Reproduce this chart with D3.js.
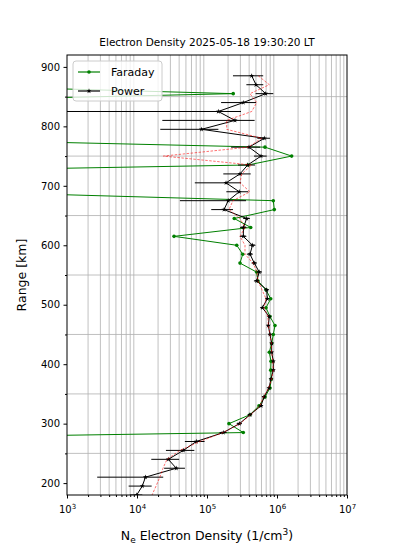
<!DOCTYPE html>
<html>
<head>
<meta charset="utf-8">
<script src="https://cdn.jsdelivr.net/npm/d3@7"></script>
<style>
  body { margin: 0; background: #fff; }
  svg text { font-family: "DejaVu Sans", sans-serif; fill: #000; }
</style>
</head>
<body>
<div id="chart"></div>
<script>
// altitudes of the samples (km)
var rangeKm = [885, 870, 855, 840, 825, 810, 795, 780, 765, 750, 735, 720, 705, 690, 675, 660,
  645, 630, 615, 600, 585, 570, 555, 540, 525, 510, 495, 480, 465, 450, 435, 420,
  405, 390, 375, 360, 345, 330, 315, 300, 285, 270, 255, 240, 225, 210, 195, 180];

// Faraday rotation estimate (1/cm^3)
var faraday = [0.5, 6, 2.37e5, 0.6, 0.5, 0.5, 0.5, 1.9, 6.74e5, 1.62e6, 3.85e5, 0.025, 0.02, 30, 8.85e5, 9.15e5,
  2.45e5, 4.21e5, 3.38e4, 2.66e5, 3.24e5, 2.96e5, 5.1e5, 5.35e5, 6.97e5, 8.13e5, 6.97e5, 7.94e5, 9.36e5, 8.85e5, 8.4e5, 7.76e5,
  8.21e5, 8.13e5, 8.3e5, 7.94e5, 6.74e5, 5.53e5, 4.11e5, 2.06e5, 3.3e5, 0.0013, 0.001, 0.001, 0.001, 0.001, 0.001, 0.001];

// power profile and its error
var power = [4.35e5, 5.01e5, 6.9e5, 3.3e5, 1.45e5, 2.51e5, 8.35e4, 6.59e5, 3.98e5, 5.91e5, 3.81e5, 2.96e5, 1.87e5, 2.89e5, 2.01e5, 1.75e5,
  3.69e5, 3.32e5, 3.3e5, 4.47e5, 4.11e5, 4.74e5, 5.58e5, 5.13e5, 7.13e5, 7.27e5, 6.17e5, 7.76e5, 7.51e5, 7.94e5, 8.4e5, 8.4e5,
  8.85e5, 8.85e5, 8.21e5, 7.69e5, 6.52e5, 5.91e5, 4.11e5, 2.91e5, 1.71e5, 7.03e4, 4.59e4, 2.8e4, 3.64e4, 1.32e4, 1.19e4, 9.9e3];
var powerErr = [2.0e5, 1.36e5, 1.95e5, 1.71e5, 1.61e5, 2.28e5, 6.2e4, 1.35e5, 1.77e5, 1.22e5, 1.04e5, 1.25e5, 1.2e5, 1.0e5, 1.6e5, 6e4,
  4e4, 3.5e4, 3.5e4, 4.5e4, 4e4, 4e4, 5e4, 4.5e4, 5e4, 4.5e4, 4e4, 4.5e4, 4e4, 4e4, 4e4, 4e4,
  4e4, 4e4, 4e4, 4e4, 4e4, 3.5e4, 3e4, 2.5e4, 2e4, 2.2e4, 2e4, 1.2e4, 1.2e4, 1.05e4, 4.3e3, 2e3];

// red dashed reference profile
var model = [5.41e5, 7.76e5, 4.11e5, 5.13e5, 4.35e5, 1.91e5, 1.91e5, 6.04e5, 3.89e5, 2.38e4, 4.35e5, 3.13e5, 2.96e5, 4.11e5, 2.35e5, 2.06e5,
  2.96e5, 3.49e5, 2.96e5, 3.49e5, 3.49e5, 4.54e5, 5.18e5, 5.35e5, 6.11e5, 6.97e5, 6.52e5, 7.43e5, 7.51e5, 7.94e5, 8.3e5, 8.4e5,
  8.7e5, 8.85e5, 8.4e5, 7.6e5, 6.4e5, 5.7e5, 4.2e5, 2.96e5, 1.69e5, 7.94e4, 4.1e4, 2.68e4, 2.35e4, 2.12e4, 1.87e4, 1.64e4];

var yTicks = [200, 300, 400, 500, 600, 700, 800, 900];
var yMinor = [250, 350, 450, 550, 650, 750, 850];
var xExp = [3, 4, 5, 6, 7];

var W = 394, H = 550;
var margin = { top: 55, right: 47, bottom: 55, left: 67 };
var width = W - margin.left - margin.right,
  height = H - margin.top - margin.bottom;

var svg = d3.select("#chart").append("svg")
  .attr("width", W).attr("height", H);

var g = svg.append("g")
  .attr("transform", "translate(" + margin.left + "," + margin.top + ")");

var x = d3.scaleLog().domain([1e3, 1e7]).range([0, width]);
var y = d3.scaleLinear().domain([180, 920]).range([height, 0]);

// minor x values 2..9 x 10^k
var xMinor = [];
xExp.slice(0, -1).forEach(function (e) {
  for (var m = 2; m <= 9; m++) xMinor.push(m * Math.pow(10, e));
});

// grid (minor only, like the original)
g.append("g").selectAll("line").data(xMinor).join("line")
  .attr("x1", d => x(d)).attr("x2", d => x(d))
  .attr("y1", 0).attr("y2", height)
  .attr("stroke", "#b0b0b0").attr("stroke-width", 0.8);
g.append("g").selectAll("line").data(yMinor).join("line")
  .attr("x1", 0).attr("x2", width)
  .attr("y1", d => y(d)).attr("y2", d => y(d))
  .attr("stroke", "#b0b0b0").attr("stroke-width", 0.8);

g.append("defs").append("clipPath").attr("id", "clip")
  .append("rect").attr("width", width).attr("height", height);

var plot = g.append("g").attr("clip-path", "url(#clip)");

var rows = rangeKm.map(function (r, i) {
  return { r: r, f: faraday[i], p: power[i], e: powerErr[i], m: model[i] };
});

// Faraday
plot.append("path").datum(rows)
  .attr("fill", "none").attr("stroke", "green").attr("stroke-width", 1)
  .attr("d", d3.line().x(d => x(d.f)).y(d => y(d.r)));
plot.append("g").selectAll("circle").data(rows).join("circle")
  .attr("cx", d => x(d.f)).attr("cy", d => y(d.r)).attr("r", 1.8)
  .attr("fill", "green");

// Power error bars
plot.append("g").selectAll("line").data(rows).join("line")
  .attr("x1", d => x(Math.max(d.p - d.e, 1e-3))).attr("x2", d => x(d.p + d.e))
  .attr("y1", d => y(d.r)).attr("y2", d => y(d.r))
  .attr("stroke", "#000").attr("stroke-width", 1);

plot.append("path").datum(rows)
  .attr("fill", "none").attr("stroke", "#000").attr("stroke-width", 1)
  .attr("d", d3.line().x(d => x(d.p)).y(d => y(d.r)));

var star = d3.symbol().type(d3.symbolStar).size(8);
plot.append("g").selectAll("path").data(rows).join("path")
  .attr("transform", d => "translate(" + x(d.p) + "," + y(d.r) + ")")
  .attr("d", star).attr("fill", "#000");

// red dashed profile
plot.append("path").datum(rows)
  .attr("fill", "none").attr("stroke", "red").attr("stroke-width", 0.7)
  .attr("stroke-dasharray", "2.5,1.5").attr("opacity", 0.8)
  .attr("d", d3.line().x(d => x(d.m)).y(d => y(d.r)));

// axes
var xAxis = g.append("g").attr("transform", "translate(0," + height + ")");
xAxis.call(d3.axisBottom(x).tickValues(xExp.map(e => Math.pow(10, e)))
  .tickSize(3.5).tickPadding(3.5).tickFormat(""));
xAxis.selectAll(".tick text").remove();
xAxis.selectAll(".tick").append("text")
  .attr("y", 18).attr("text-anchor", "middle").attr("font-size", 10)
  .each(function (d) {
    var t = d3.select(this);
    t.append("tspan").text("10");
    t.append("tspan").attr("dy", -4).attr("font-size", 7).text(Math.round(Math.log10(d)));
  });
g.append("g").attr("transform", "translate(0," + height + ")")
  .call(d3.axisBottom(x).tickValues(xMinor).tickSize(2).tickFormat(""))
  .select(".domain").remove();

var yAxis = g.append("g");
yAxis.call(d3.axisLeft(y).tickValues(yTicks).tickSize(3.5).tickPadding(3.5));
yAxis.selectAll("text").attr("font-size", 10);
g.append("g")
  .call(d3.axisLeft(y).tickValues(yMinor).tickSize(2).tickFormat(""))
  .select(".domain").remove();

g.selectAll(".domain").remove();
g.append("rect").attr("width", width).attr("height", height)
  .attr("fill", "none").attr("stroke", "#000").attr("stroke-width", 1);

// title and labels
svg.append("text").attr("x", margin.left + width / 2).attr("y", 46)
  .attr("text-anchor", "middle").attr("font-size", 10.5)
  .text("Electron Density 2025-05-18 19:30:20 LT");

var xl = svg.append("text").attr("x", margin.left + width / 2).attr("y", 540)
  .attr("text-anchor", "middle").attr("font-size", 12.5);
xl.append("tspan").text("N");
xl.append("tspan").attr("dy", 3).attr("font-size", 9).text("e");
xl.append("tspan").attr("dy", -3).text(" Electron Density (1/cm");
xl.append("tspan").attr("dy", -5).attr("font-size", 9).text("3");
xl.append("tspan").attr("dy", 5).text(")");

svg.append("text")
  .attr("transform", "translate(26," + (margin.top + height / 2) + ") rotate(-90)")
  .attr("text-anchor", "middle").attr("font-size", 12.5)
  .text("Range [km]");

// legend
var leg = g.append("g").attr("transform", "translate(6,6)");
leg.append("rect").attr("width", 89).attr("height", 40).attr("rx", 3)
  .attr("fill", "#fff").attr("fill-opacity", 0.8)
  .attr("stroke", "#ccc").attr("stroke-width", 1);
var items = [{ name: "Faraday", color: "green" }, { name: "Power", color: "#000" }];
items.forEach(function (it, i) {
  var yy = 11 + i * 19;
  leg.append("line").attr("x1", 5).attr("x2", 27).attr("y1", yy).attr("y2", yy)
    .attr("stroke", it.color).attr("stroke-width", 1.2);
  if (i === 0) {
    leg.append("circle").attr("cx", 16).attr("cy", yy).attr("r", 1.8).attr("fill", it.color);
  } else {
    leg.append("path").attr("transform", "translate(16," + yy + ")").attr("d", star).attr("fill", it.color);
  }
  leg.append("text").attr("x", 38).attr("y", yy + 4).attr("font-size", 11).text(it.name);
});
</script>
</body>
</html>
